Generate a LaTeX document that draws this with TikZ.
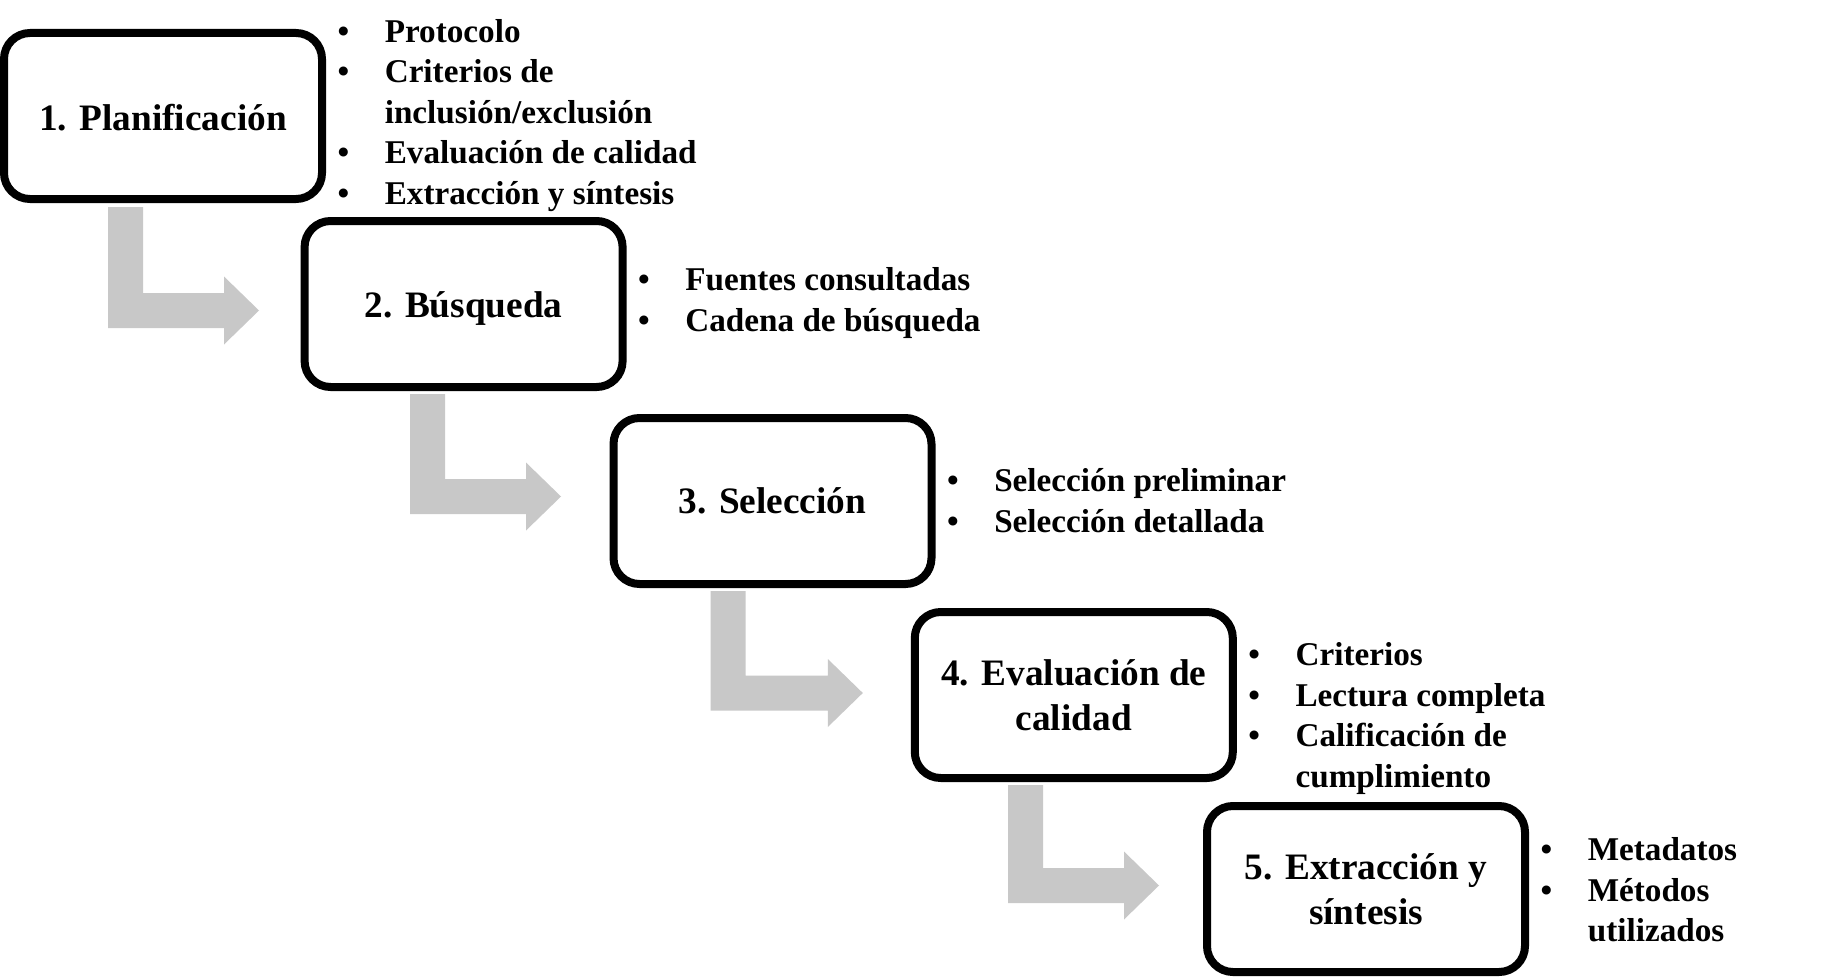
\documentclass[tikz,border=0pt]{standalone}
\usepackage{fontspec}
\setmainfont{Liberation Serif}
\usetikzlibrary{calc,backgrounds}
\definecolor{arrowgray}{RGB}{200,200,200}
\tikzset{
  stepbox/.style={draw=black, line width=4pt, rounded corners=13pt, fill=white,
    minimum width=159pt, minimum height=83pt, inner sep=0pt, align=center,
    font=\fontsize{18.65}{22.5}\selectfont\bfseries},
  bullets/.style={anchor=west, inner sep=0pt, font=\fontsize{16.6}{20.25}\selectfont\bfseries},
  bentarrow/.style={fill=arrowgray, draw=none}
}
\newcommand{\drawbent}[2]{%
  \fill[bentarrow] let \p1=(#1), \p2=(#2) in
    (\x1,\y1) -- (\x1+17.5pt,\y1) -- (\x1+17.5pt,\y2+8.75pt) --
    (\x2-17.5pt,\y2+8.75pt) -- (\x2-17.5pt,\y2+17pt) -- (\x2,\y2) --
    (\x2-17.5pt,\y2-17pt) -- (\x2-17.5pt,\y2-8.75pt) -- (\x1,\y2-8.75pt) -- cycle;}
\begin{document}
\begin{tikzpicture}[x=0.5pt, y=-0.5pt]
\useasboundingbox (0,0) rectangle (1848,979);

% boxes
\node[stepbox] (B1) at (163,116) {\raisebox{-1pt}[\height][\depth]{1. Planificación}};
\node[stepbox] (B2) at (463.6,304) {\raisebox{-2.4pt}[\height][\depth]{2. Búsqueda}};
\node[stepbox] (B3) at (772.5,501) {3. Selección};
\node[stepbox] (B4) at (1073.8,695) {4. Evaluación de\\calidad};
\node[stepbox] (B5) at (1366,889) {5. Extracción y\\síntesis};

% bullet lists
\node[bullets] (L1) at ($(B1.east)+(11.2,-1)$) {\begin{tabular}{@{}p{23.6pt}@{}l@{}}
• & Protocolo\\
• & Criterios de\\
  & inclusión/exclusión\\
• & Evaluación de calidad\\
• & Extracción y síntesis
\end{tabular}};
\node[bullets] (L2) at ($(B2.east)+(11.2,-1)$) {\begin{tabular}{@{}p{23.6pt}@{}l@{}}
• & Fuentes consultadas\\
• & Cadena de búsqueda
\end{tabular}};
\node[bullets] (L3) at ($(B3.east)+(11.2,3)$) {\begin{tabular}{@{}p{23.6pt}@{}l@{}}
• & Selección preliminar\\
• & Selección detallada
\end{tabular}};
\node[bullets] (L4) at ($(B4.east)+(11.2,23.5)$) {\begin{tabular}{@{}p{23.6pt}@{}l@{}}
• & Criterios\\
• & Lectura completa\\
• & Calificación de\\
  & cumplimiento
\end{tabular}};
\node[bullets] (L5) at ($(B5.east)+(11.2,4)$) {\begin{tabular}{@{}p{23.6pt}@{}l@{}}
• & Metadatos\\
• & Métodos\\
  & utilizados
\end{tabular}};

% arrow anchor points
\coordinate (a1s) at ($(B1.south)+(-55,4)$);
\coordinate (a1t) at ($(B2.west)+(-41.6,6.5)$);
\coordinate (a2s) at ($(B2.south)+(-53.6,3)$);
\coordinate (a2t) at ($(B3.west)+(-48.5,-4.5)$);
\coordinate (a3s) at ($(B3.south)+(-62,3)$);
\coordinate (a3t) at ($(B4.west)+(-48,-2)$);
\coordinate (a4s) at ($(B4.south)+(-65.8,3)$);
\coordinate (a4t) at ($(B5.west)+(-44,-3.5)$);

\begin{pgfonlayer}{background}
  \fill[white] (0,0) rectangle (1848,979);
  \drawbent{a1s}{a1t}
  \drawbent{a2s}{a2t}
  \drawbent{a3s}{a3t}
  \drawbent{a4s}{a4t}
\end{pgfonlayer}
\end{tikzpicture}
\end{document}
